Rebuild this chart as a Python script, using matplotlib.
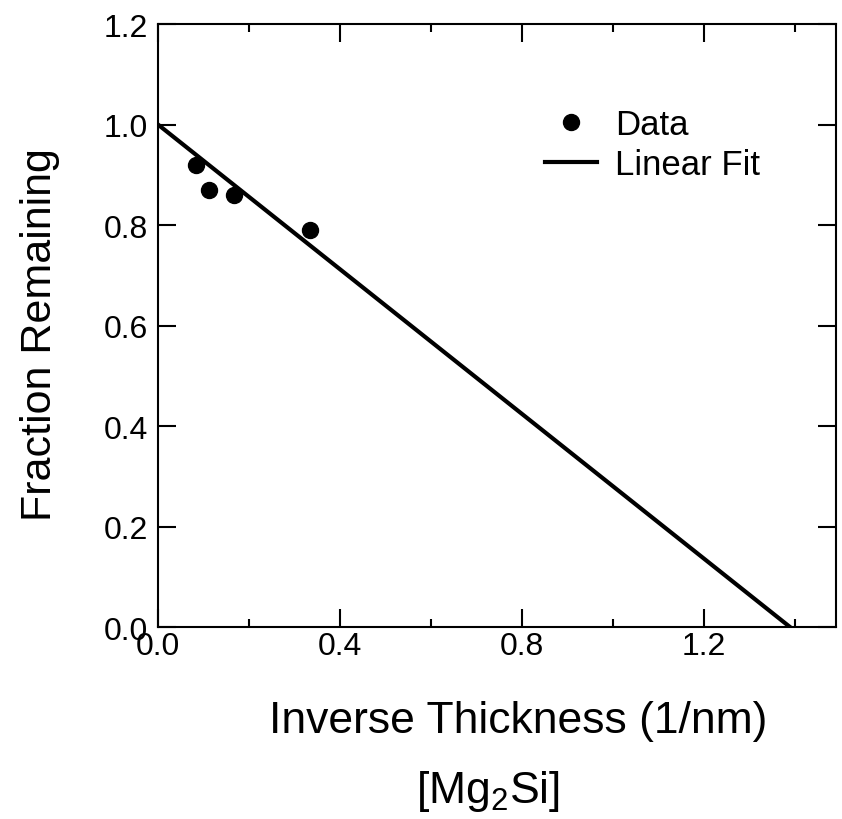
import numpy as np
import matplotlib
matplotlib.use('Agg')
import matplotlib.pyplot as plt
from matplotlib.ticker import MultipleLocator

plt.rcParams['font.family'] = ['Liberation Sans', 'DejaVu Sans']
plt.rcParams['mathtext.fontset'] = 'custom'
plt.rcParams['mathtext.rm'] = 'Liberation Sans'
plt.rcParams['mathtext.it'] = 'Liberation Sans:italic'

# data
inv_thickness = [1/12, 1/9, 1/6, 1/3]
fraction = [0.92, 0.87, 0.86, 0.79]
fit_intercept = 1.0
fit_slope = -0.72
fit_x = [0.0, 1.0 / 0.72]

fig = plt.figure(figsize=(8.42, 8.20), dpi=100)
ax = fig.add_axes([0.1876, 0.2341, 0.8053, 0.7354])

ax.plot(inv_thickness, fraction, 'o', color='black', markersize=11.5, label='Data', zorder=3)
fx = np.array(fit_x)
ax.plot(fx, fit_intercept + fit_slope * fx, '-', color='black', linewidth=3, label='Linear Fit')

ax.set_xlim(0, 1.49)
ax.set_ylim(0, 1.2)
ax.xaxis.set_major_locator(MultipleLocator(0.4))
ax.xaxis.set_minor_locator(MultipleLocator(0.2))
ax.yaxis.set_major_locator(MultipleLocator(0.2))
ax.xaxis.set_major_formatter(plt.FormatStrFormatter('%.1f'))
ax.yaxis.set_major_formatter(plt.FormatStrFormatter('%.1f'))

ax.tick_params(which='both', direction='in', top=True, right=True, width=1.5,
               labelsize=23, colors='black')
ax.tick_params(which='major', length=13)
ax.tick_params(which='minor', length=6)
ax.tick_params(axis='x', pad=3)
ax.tick_params(axis='y', pad=7)
for s in ax.spines.values():
    s.set_linewidth(1.5)

fig.text(40 / 842, 1 - 335 / 820, 'Fraction Remaining', fontsize=31,
         rotation=90, ha='center', va='center')
fig.text(518 / 842, 1 - 722 / 820, 'Inverse Thickness (1/nm)', fontsize=32,
         ha='center', va='center')
fig.text(488 / 842, 1 - 792 / 820, r'[Mg$_2$Si]', fontsize=32,
         ha='center', va='center')

ax.legend(loc='upper left', bbox_to_anchor=(0.571, 0.861), frameon=False,
          fontsize=25, handlelength=1.5, handletextpad=0.52, labelspacing=0.22,
          borderpad=0, borderaxespad=0, numpoints=1)

fig.savefig('out.png', dpi=100)
